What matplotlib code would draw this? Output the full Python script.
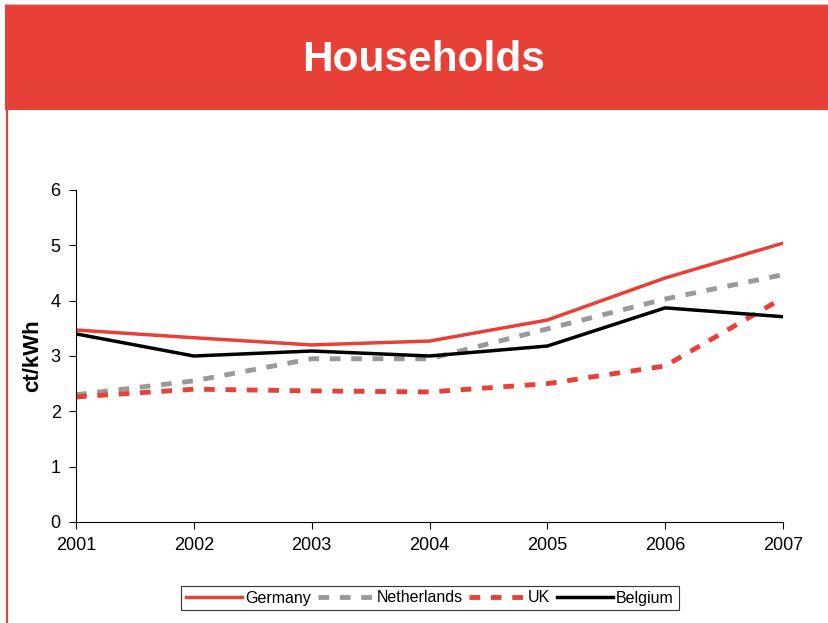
import matplotlib.pyplot as plt
from matplotlib.patches import Rectangle
from matplotlib.lines import Line2D

plt.rcParams['font.family'] = ['Liberation Sans', 'DejaVu Sans']

years = [2001, 2002, 2003, 2004, 2005, 2006, 2007]
germany = [3.47, 3.33, 3.20, 3.27, 3.65, 4.41, 5.04]
netherlands = [2.30, 2.55, 2.95, 2.95, 3.49, 4.03, 4.47]
uk = [2.26, 2.40, 2.37, 2.35, 2.50, 2.82, 4.05]
belgium = [3.40, 3.00, 3.09, 3.00, 3.18, 3.87, 3.71]

red = '#E84036'
grey = '#999999'

W, H = 829, 623
fig = plt.figure(figsize=(W / 100, H / 100), dpi=100)

# banner and frame
fig.patches.append(Rectangle((5 / W, 1 - 110 / H), 1, 105 / H, transform=fig.transFigure,
                             facecolor=red, edgecolor='none'))
fig.add_artist(Line2D([7 / W, 7 / W], [0, 1 - 110 / H], transform=fig.transFigure,
                      color=red, lw=1.5))
fig.add_artist(Line2D([5 / W, 1], [1 - 4 / H, 1 - 4 / H], transform=fig.transFigure,
                      color='#f0b0aa', lw=0.8))
fig.text(424 / W, 1 - 60 / H, 'Households', color='white', fontsize=30.5,
         fontweight='bold', ha='center', va='center')

ax = fig.add_axes([76 / W, 1 - 522 / H, (783 - 76) / W, (522 - 190) / H])
ax.plot(years, germany, color=red, lw=2.5, label='Germany')
ax.plot(years, netherlands, color=grey, lw=3.5, dashes=(2.2, 2.2), label='Netherlands')
ax.plot(years, uk, color=red, lw=3.5, dashes=(2.2, 2.2), label='UK')
ax.plot(years, belgium, color='black', lw=2.5, label='Belgium')

ax.set_xlim(2001, 2007)
ax.set_ylim(0, 6)
ax.set_xticks(years)
ax.set_yticks(range(7))
ax.spines['top'].set_visible(False)
ax.spines['right'].set_visible(False)
ax.spines['left'].set_linewidth(0.8)
ax.spines['bottom'].set_linewidth(0.8)
ax.tick_params(axis='both', labelsize=13, direction='out', length=5, width=0.8, pad=6)
ax.set_ylabel('ct/kWh', fontsize=16, fontweight='bold')
ax.yaxis.set_label_coords(-0.047, 0.5)

leg = fig.legend(loc='center', bbox_to_anchor=(430 / W, 1 - 598 / H), ncol=4, frameon=True,
                 fontsize=11.5, handlelength=3.5, handletextpad=0.2, columnspacing=0.4,
                 borderpad=0.3, fancybox=False, edgecolor='black')
leg.get_frame().set_linewidth(0.8)

fig.savefig('out.png', dpi=100)
